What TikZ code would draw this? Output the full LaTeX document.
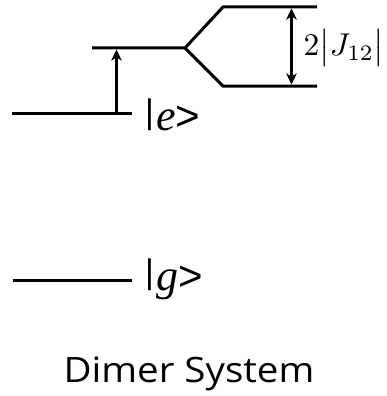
\documentclass[tikz,border=0pt]{standalone}
\usepackage{fontspec}
\usetikzlibrary{arrows.meta}
\newfontfamily\labelsans{Liberation Sans}
\newfontfamily\labelserif{Liberation Serif}[ItalicFont={Liberation Serif Italic}]
\newfontfamily\titlefont{Open Sans}
% state label |x> : thin bar on the baseline, italic serif letter, angle
\newcommand\statelabel[1]{\raisebox{7pt}{\labelsans\fontsize{34}{34}\selectfont|}\kern2pt{\labelserif\itshape\fontsize{44}{44}\selectfont #1}\kern0pt{\labelsans\fontsize{42}{42}\selectfont >}}
\begin{document}
\begin{tikzpicture}[x=1pt,y=-1pt,
  level/.style={line width=3pt},
  levtip/.tip={Stealth[length=11pt,width=10.5pt,inset=3pt]},
  excitearrow/.style={draw,line width=3pt,-levtip},
  splitarrow/.style={draw,line width=3pt,levtip-levtip},
  ketlabel/.style={inner sep=0pt,anchor=base west},
]
\useasboundingbox (0,0) rectangle (386,396);
% energy levels
\coordinate (g1) at (13,280);  \coordinate (g2) at (132,280);
\coordinate (e1) at (12,113);  \coordinate (e2) at (132,113);
\coordinate (m1) at (92,48);   \coordinate (m2) at (185,48);
\coordinate (u1) at (223,7);   \coordinate (u2) at (317,7);
\coordinate (l1) at (223,86);  \coordinate (l2) at (317,86);
\draw[level] (g1) -- (g2);
\draw[level] (e1) -- (e2);
\draw[level,line join=miter] (m1) -- (m2) -- (u1) -- (u2);
\draw[level,line join=miter] (m2) -- (l1) -- (l2);
% excitation arrow and exciton splitting
\coordinate (a0) at (116.5,113); \coordinate (a1) at (116.5,49.5);
\path[excitearrow] (a0) -- (a1);
\coordinate (s0) at (291.5,8.5); \coordinate (s1) at (291.5,84.5);
\path[splitarrow] (s0) -- (s1);
\node[scale=3.15,inner sep=0pt] (J) at (344,48) {$2\bigl|J_{12}\bigr|$};
% labels
\node[ketlabel] (e) at (145,130) {\statelabel{e}};
\node[ketlabel] (g) at (145,290) {\statelabel{g}};
\node[inner sep=0pt,anchor=base,xscale=1.1] (title) at (189,382) {\titlefont\fontsize{35}{35}\selectfont Dimer System};
\end{tikzpicture}
\end{document}
